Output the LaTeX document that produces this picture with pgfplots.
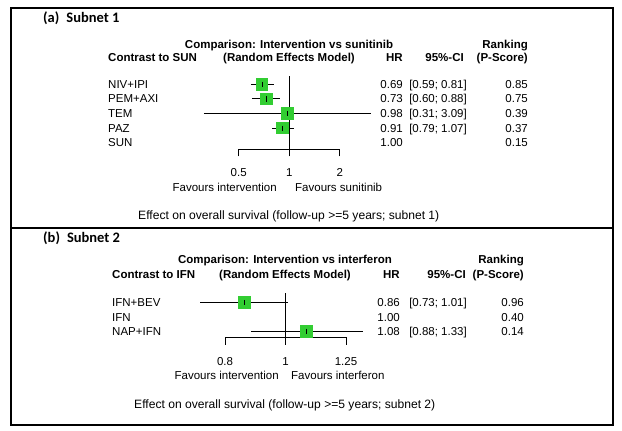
\documentclass[border=0pt]{standalone}
\usepackage{fontspec}
\setmainfont{Liberation Sans}
\newfontfamily\calib{Carlito}
\usepackage{pgfplots}
\pgfplotsset{compat=1.18}
\definecolor{sqgreen}{HTML}{32CD32}
\newcommand{\rf}{\fontsize{11.5}{13.8}\selectfont}

\pgfplotsset{
  sq/.style={only marks, color=sqgreen, mark=square*, mark size=5.8pt,
    mark options={solid, fill=sqgreen, draw=sqgreen, line width=0pt}},
  ci/.style={black, line width=0.9pt, no marks},
  est/.style={only marks, black, mark=|, mark size=2.6pt,
    mark options={black, line width=0.9pt}},
}

\begin{document}
\begin{tikzpicture}[x=1pt, y=1pt,
  t/.style={inner sep=0pt, font=\rf, yshift=-4.1pt},
  tb/.style={inner sep=0pt, font=\rf\bfseries, yshift=-4.1pt},
  ft/.style={inner sep=0pt, font=\fontsize{12.1}{14.5}\selectfont, yshift=-4.3pt},
  hd/.style={inner sep=0pt, font=\calib\fontsize{14.5}{17}\selectfont\bfseries, yshift=-4.7pt}]
\path (0,0) rectangle (622,431);
\draw[line width=1.2pt] (11,6) rectangle (613,423);
\draw[line width=1.2pt] (11,203) -- (613,203);

% ---- (a) subnet 1 ----
\begin{axis}[at={(238.7pt,282pt)}, anchor=south west,
  scale only axis, width=101pt, height=73pt,
  xmode=log, clip=false,
  axis x line=bottom, axis y line=none,
  x axis line style={-, line width=0.9pt},
  xtick align=outside, major tick length=7.5pt,
  tick style={black, line width=0.9pt}, minor tick num=0,
  xticklabel style={font=\rf, inner sep=0pt, anchor=base, yshift=-20pt},
  xmin=0.5, xmax=2, ymin=0.57, ymax=5.57,
  xtick={0.5,1,2}, xticklabels={0.5,1,2}]
\addplot[ci] coordinates {(1,0.57) (1,5.57)};
\addplot[sq] coordinates {(0.69,5) (0.73,4) (0.98,3) (0.91,2)};
\addplot[ci] coordinates {(0.59,5) (0.81,5)};
\addplot[ci] coordinates {(0.60,4) (0.88,4)};
\addplot[ci] coordinates {(0.31,3) (3.09,3)};
\addplot[ci] coordinates {(0.79,2) (1.07,2)};
\addplot[est] coordinates {(0.69,5) (0.73,4) (0.98,3) (0.91,2)};
\end{axis}

\node[hd, anchor=base west] at (43,413) {(a)\hspace{7pt}Subnet 1};
\node[tb, anchor=base] at (289,387) {Comparison: Intervention vs sunitinib};
\node[tb, anchor=base east] at (528,387) {Ranking};
\node[tb, anchor=base west] at (108,374) {Contrast to SUN};
\node[tb, anchor=base] at (289,374) {(Random Effects Model)};
\node[tb, anchor=base east] at (403,374) {HR};
\node[tb, anchor=base east] at (464,374) {95\%-CI};
\node[tb, anchor=base east] at (528,374) {(P-Score)};
\foreach \lab/\hr/\ci/\rk [count=\i from 0] in {NIV+IPI/0.69/{[0.59; 0.81]}/0.85,
    PEM+AXI/0.73/{[0.60; 0.88]}/0.75, TEM/0.98/{[0.31; 3.09]}/0.39,
    PAZ/0.91/{[0.79; 1.07]}/0.37, SUN/1.00/{}/0.15} {
  \pgfmathsetmacro{\yy}{431-84.3-14.6*\i}
  \node[t, anchor=base west] at (108,\yy) {\lab};
  \node[t, anchor=base east] at (403,\yy) {\hr};
  \node[t, anchor=base east] at (467,\yy) {\ci};
  \node[t, anchor=base east] at (528,\yy) {\rk};
}
\node[t, anchor=base east] at (277,244) {Favours intervention};
\node[t, anchor=base west] at (295,244) {Favours sunitinib};
\node[ft, anchor=base west] at (138,215.3) {Effect on overall survival (follow-up >=5 years; subnet 1)};

% ---- (b) subnet 2 ----
\begin{axis}[at={(225pt,93.7pt)}, anchor=south west,
  scale only axis, width=121pt, height=44.35pt,
  xmode=log, clip=false,
  axis x line=bottom, axis y line=none,
  x axis line style={-, line width=0.9pt},
  xtick align=outside, major tick length=7.5pt,
  tick style={black, line width=0.9pt}, minor tick num=0,
  xticklabel style={font=\rf, inner sep=0pt, anchor=base, yshift=-20.5pt},
  xmin=0.8, xmax=1.25, ymin=0.59, ymax=3.67,
  xtick={0.8,1,1.25}, xticklabels={0.8,1,1.25}]
\addplot[ci] coordinates {(1,0.59) (1,3.67)};
\addplot[sq] coordinates {(0.86,3) (1.08,1)};
\addplot[ci] coordinates {(0.73,3) (1.01,3)};
\addplot[ci] coordinates {(0.88,1) (1.33,1)};
\addplot[est] coordinates {(0.86,3) (1.08,1)};
\end{axis}

\node[hd, anchor=base west] at (43,193.3) {(b)\hspace{7pt}Subnet 2};
\node[tb, anchor=base] at (285,172) {Comparison: Intervention vs interferon};
\node[tb, anchor=base east] at (524,172) {Ranking};
\node[tb, anchor=base west] at (112,157) {Contrast to IFN};
\node[tb, anchor=base] at (285,157) {(Random Effects Model)};
\node[tb, anchor=base east] at (400,157) {HR};
\node[tb, anchor=base east] at (466,157) {95\%-CI};
\node[tb, anchor=base east] at (524,157) {(P-Score)};
\foreach \lab/\hr/\ci/\rk [count=\i from 0] in {IFN+BEV/0.86/{[0.73; 1.01]}/0.96,
    IFN/1.00/{}/0.40, NAP+IFN/1.08/{[0.88; 1.33]}/0.14} {
  \pgfmathsetmacro{\yy}{431-302.7-14.35*\i}
  \node[t, anchor=base west] at (112,\yy) {\lab};
  \node[t, anchor=base east] at (400,\yy) {\hr};
  \node[t, anchor=base east] at (467,\yy) {\ci};
  \node[t, anchor=base east] at (524,\yy) {\rk};
}
\node[t, anchor=base east] at (279,56) {Favours intervention};
\node[t, anchor=base west] at (291,56) {Favours interferon};
\node[ft, anchor=base west] at (134,27) {Effect on overall survival (follow-up >=5 years; subnet 2)};
\end{tikzpicture}
\end{document}
